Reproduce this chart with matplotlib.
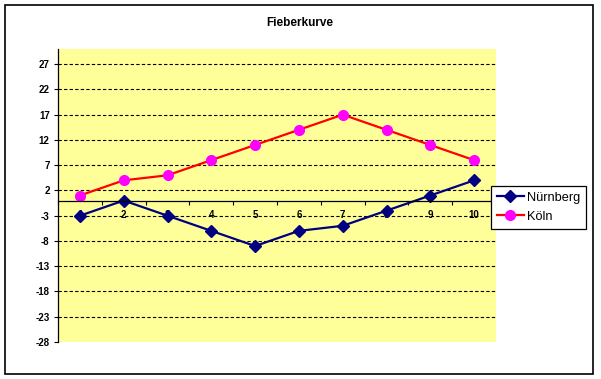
import numpy as np
import matplotlib
matplotlib.use('Agg')
import matplotlib.pyplot as plt
from matplotlib.patches import Rectangle

tage = [1, 2, 3, 4, 5, 6, 7, 8, 9, 10]
nuernberg = [-3, 0, -3, -6, -9, -6, -5, -2, 1, 4]
koeln = [1, 4, 5, 8, 11, 14, 17, 14, 11, 8]
y_ticks = [-28, -23, -18, -13, -8, -3, 2, 7, 12, 17, 22, 27]

plt.rcParams['font.family'] = ['Liberation Sans', 'DejaVu Sans']

fig = plt.figure(figsize=(6.01, 3.79), dpi=100)
# outer chart frame like excel
fig.patches.append(Rectangle((5/601, 1-374/379), 588/601, 369/379, transform=fig.transFigure,
                             fill=False, edgecolor='black', linewidth=1.2))

ax = fig.add_axes([58/601, 1-342/379, 438/601, 293/379])
ax.set_facecolor('#FFFF99')
ax.set_axisbelow(True)

# spine position first, it resets the ticks
ax.spines['top'].set_visible(False)
ax.spines['right'].set_visible(False)
ax.spines['bottom'].set_position(('data', 0))
ax.spines['left'].set_linewidth(0.9)
ax.spines['bottom'].set_linewidth(0.9)

ax.plot(tage, nuernberg, color='#000080', linewidth=1.6, marker='D', markersize=6.5, label='Nürnberg')
ax.plot(tage, koeln, color='#FF0000', linewidth=1.6, marker='o', markersize=7,
        markerfacecolor='#FF00FF', markeredgecolor='#FF00FF', label='Köln')

ax.set_xlim(0.5, 10.5)
ax.set_ylim(-28, 30)
ax.set_yticks(y_ticks)
ax.set_yticklabels([str(v) for v in y_ticks], fontsize=7, fontweight='bold')
ax.set_xticks(tage)
ax.set_xticklabels([str(t) for t in tage], fontsize=7, fontweight='bold')
ax.set_xticks(np.arange(0.5, 11, 1), minor=True)
ax.tick_params(axis='x', which='major', length=0, pad=7)
ax.tick_params(axis='x', which='minor', length=3, width=0.8, direction='out')
ax.tick_params(axis='y', length=3, width=0.8, direction='out', pad=3)

ax.grid(axis='y', color='black', linestyle=(0, (3, 2)), linewidth=0.8)
ax.yaxis.get_gridlines()[0].set_visible(False)

fig.text(300/601, 1-23/379, 'Fieberkurve', ha='center', va='center', fontsize=8.5, fontweight='bold')

leg = ax.legend(loc='upper left', bbox_to_anchor=(491/601, 1-186/379), bbox_transform=fig.transFigure,
                borderaxespad=0, fontsize=9.2, fancybox=False, framealpha=1, edgecolor='black',
                handlelength=2.1, handletextpad=0.3, borderpad=0.45, labelspacing=0.55)
leg.get_frame().set_linewidth(0.9)

plt.savefig('out.png', dpi=100)
